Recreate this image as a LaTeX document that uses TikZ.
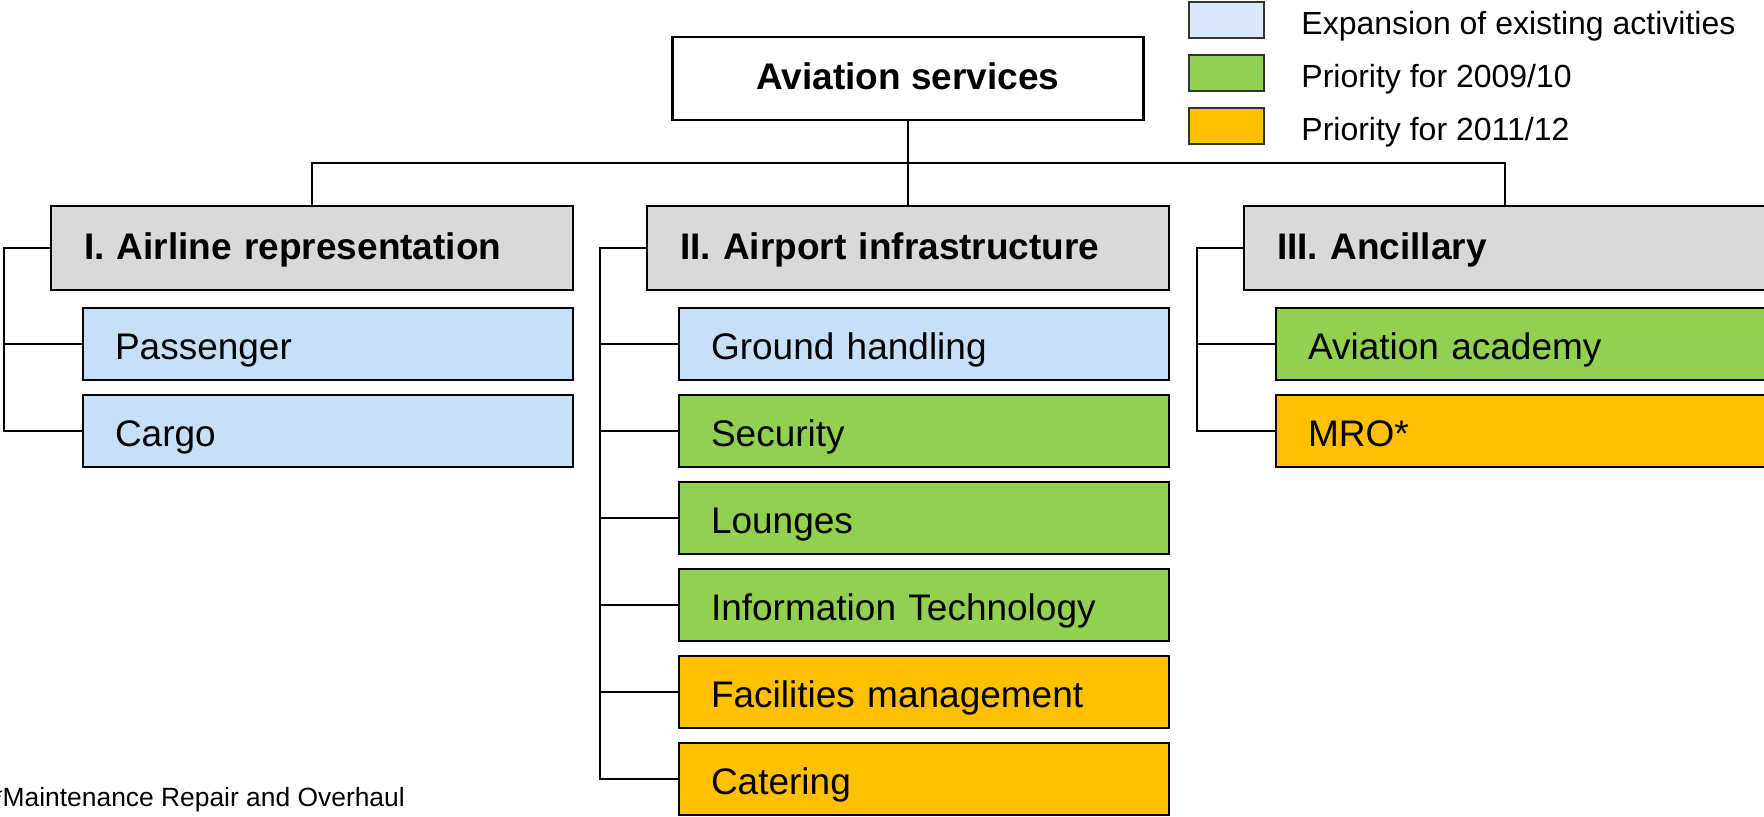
\documentclass[tikz,border=0pt]{standalone}
\usepackage{fontspec}
\setmainfont{Liberation Sans}
\usepackage{xcolor}
\usetikzlibrary{positioning}

\definecolor{hdrgray}{HTML}{D9D9D9}
\definecolor{expblue}{HTML}{C6E0FA}
\definecolor{legblue}{HTML}{DAE8FC}
\definecolor{prigreen}{HTML}{92D050}
\definecolor{priorange}{HTML}{FFC000}

\begin{document}
\begin{tikzpicture}[
    x=0.5pt,y=-0.5pt,
    node distance=7.5pt,
    rootbox/.style={rectangle,draw=black,line width=1.25pt,outer sep=0pt,minimum width=235.5pt,minimum height=41.5pt,inner sep=0pt,text height=14.5pt,text depth=4pt,font=\fontsize{18.5}{22}\selectfont\bfseries},
    areabox/.style={rectangle,draw=black,line width=1.25pt,outer sep=0pt,fill=hdrgray,minimum height=42pt,inner ysep=0pt,inner xsep=16.5pt,text width=228pt,align=left,text height=15pt,text depth=4pt,font=\fontsize{18.5}{22}\selectfont\bfseries},
    servicebox/.style={rectangle,draw=black,line width=1.25pt,outer sep=0pt,minimum height=36pt,inner ysep=0pt,inner xsep=16pt,text width=213pt,align=left,text height=19.5pt,text depth=4pt,font=\fontsize{18.5}{22}\selectfont},
    legbox/.style={rectangle,draw=black!80,line width=1pt,outer sep=0pt,minimum width=37.5pt,minimum height=18pt,inner sep=0pt},
    legtext/.style={inner sep=0pt,text height=15pt,text depth=0pt,font=\fontsize{16}{19}\selectfont},
    branch/.style={draw=black,line width=0.8pt}
]
\useasboundingbox (0,0) rectangle (1764,816);

% top of the tree
\node[rootbox] (aviation) at (908,78.5) {Aviation services};
\node[areabox] (airline) at (312,248) {I. Airline representation};
\node[areabox] (airport) at (908,248) {II. Airport infrastructure};
\node[areabox] (ancillary) at (1505,248) {III. Ancillary};

% I.
\node[servicebox,fill=expblue,below=9pt of airline.south east,anchor=north east] (passenger) {Passenger};
\node[servicebox,fill=expblue,below=of passenger] (cargo) {Cargo};

% II.
\node[servicebox,fill=expblue,below=9pt of airport.south east,anchor=north east] (ground) {Ground handling};
\node[servicebox,fill=prigreen,below=of ground] (security) {Security};
\node[servicebox,fill=prigreen,below=of security] (lounges) {Lounges};
\node[servicebox,fill=prigreen,below=of lounges] (infotech) {Information Technology};
\node[servicebox,fill=priorange,below=of infotech] (facilities) {Facilities management};
\node[servicebox,fill=priorange,below=of facilities] (catering) {Catering};

% III.
\node[servicebox,fill=prigreen,below=9pt of ancillary.south east,anchor=north east] (academy) {Aviation academy};
\node[servicebox,fill=priorange,below=of academy] (mro) {MRO*};

% legend
\node[legbox,fill=legblue] (legexp) at (1226.5,19.5) {};
\node[legbox,fill=prigreen,below=8.5pt of legexp] (legfirst) {};
\node[legbox,fill=priorange,below=8.5pt of legfirst] (legsecond) {};
\node[legtext,right=18.5pt of legexp] (txtexp) {Expansion of existing activities};
\node[legtext,right=18.5pt of legfirst] (txtfirst) {Priority for 2009/10};
\node[legtext,right=18.5pt of legsecond] (txtsecond) {Priority for 2011/12};

\node[anchor=base west,inner sep=0pt,font=\fontsize{13.2}{16}\selectfont] (footnote) at (-8,806) {*Maintenance Repair and Overhaul};

% connectors
\coordinate[below=21.5pt of aviation] (bus);
\draw[branch] (airline) |- (bus) -| (ancillary);
\draw[branch] (aviation) -- (airport);

\coordinate[left=23.5pt of airline] (spineA);
\coordinate[left=23.5pt of airport] (spineB);
\coordinate[left=23.5pt of ancillary] (spineC);

\draw[branch] (airline) -- (spineA) |- (cargo);
\draw[branch] (passenger) -- (passenger -| spineA);

\draw[branch] (airport) -- (spineB) |- (catering);
\draw[branch] (ground) -- (ground -| spineB);
\draw[branch] (security) -- (security -| spineB);
\draw[branch] (lounges) -- (lounges -| spineB);
\draw[branch] (infotech) -- (infotech -| spineB);
\draw[branch] (facilities) -- (facilities -| spineB);

\draw[branch] (ancillary) -- (spineC) |- (mro);
\draw[branch] (academy) -- (academy -| spineC);

\end{tikzpicture}
\end{document}
